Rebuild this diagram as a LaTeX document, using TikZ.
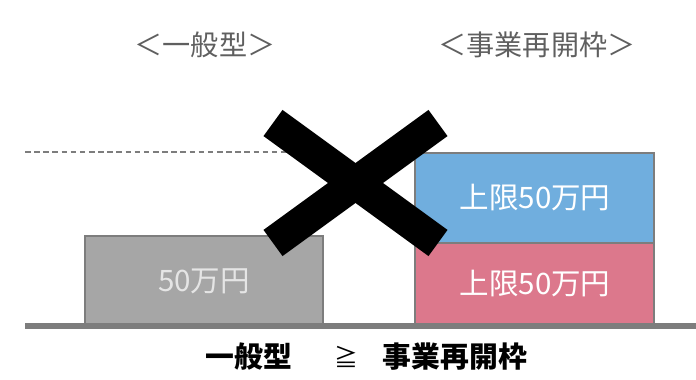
\documentclass[tikz,border=0pt]{standalone}
\usepackage{fontspec}
\newfontfamily\jpfont{Noto Sans CJK JP}
\definecolor{boxgray}{RGB}{166,166,166}
\definecolor{boxblue}{RGB}{112,174,222}
\definecolor{boxpink}{RGB}{220,120,140}
\definecolor{edgegray}{RGB}{125,125,125}
\definecolor{titlegray}{RGB}{95,95,95}
\tikzset{
  amount/.style={draw=edgegray, line width=1.4pt},
  amounttext/.style={text=white, font=\jpfont\fontsize{21}{24}\selectfont},
  heading/.style={text=titlegray, font=\jpfont\fontsize{20}{24}\selectfont},
  verdict/.style={font=\jpfont\bfseries\fontsize{20.5}{24}\selectfont}
}
\begin{document}
\begin{tikzpicture}[x=0.025cm,y=-0.025cm]
\useasboundingbox (0,0) rectangle (696,380);
\node[heading] (lefthead) at (205,45) {＜一般型＞};
\node[heading] (righthead) at (537,45) {＜事業再開枠＞};
\draw[edgegray, line width=0.8pt, dash pattern=on 4pt off 2.5pt] (25,152)--(300,152);
% boxes
\filldraw[amount, fill=boxgray] (85,236) rectangle (323,325);
\filldraw[amount, fill=boxpink] (415,243) rectangle (654,325);
\filldraw[amount, fill=boxblue] (415,153) rectangle (654,243);
\node[amounttext, text=white!90!black] (ippan) at (204,281) {50万円};
\node[amounttext] (lower) at (535,284) {上限50万円};
\node[amounttext] (upper) at (535,198) {上限50万円};
\draw[edgegray, line width=4.3pt] (25,326)--(696,326);
% the cross
\draw[line width=23pt] (273,123)--(438,243);
\draw[line width=23pt] (438,123)--(273,243);
\node[verdict] (general) at (249,357) {一般型};
\node[verdict, font=\jpfont\fontsize{17}{20}\selectfont] (geq) at (346,357) {≧};
\node[verdict] (restart) at (455,357) {事業再開枠};
\end{tikzpicture}
\end{document}
